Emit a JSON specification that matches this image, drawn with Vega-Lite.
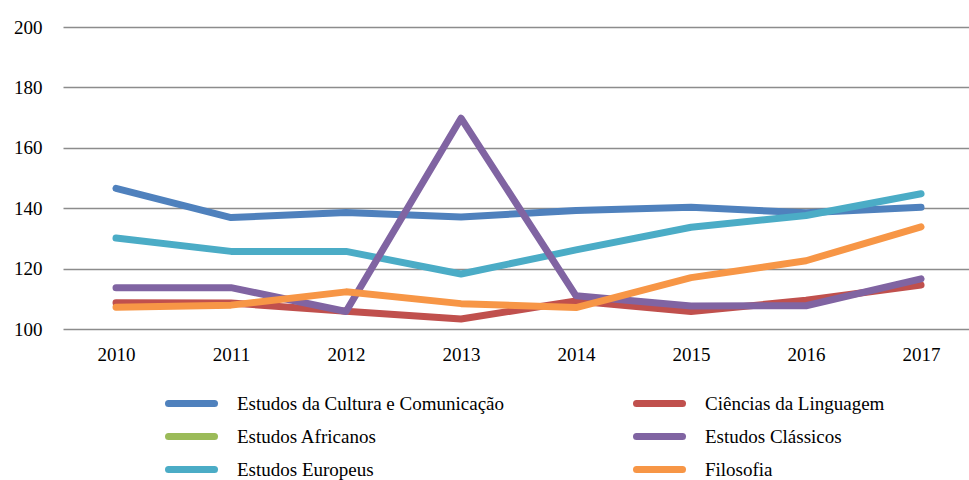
{
  "$schema": "https://vega.github.io/schema/vega-lite/v6.json",
  "autosize": {"type": "none"},
  "width": 906,
  "height": 302,
  "padding": {"left": 63, "top": 27, "right": 0, "bottom": 151},
  "background": "white",
  "config": {
    "view": {"stroke": null},
    "font": "Liberation Serif, Times New Roman, serif"
  },
  "data": {
    "values": [
      {"ano": "2010", "area": "Estudos da Cultura e Comunicação", "valor": 146.6},
      {"ano": "2011", "area": "Estudos da Cultura e Comunicação", "valor": 136.9},
      {"ano": "2012", "area": "Estudos da Cultura e Comunicação", "valor": 138.6},
      {"ano": "2013", "area": "Estudos da Cultura e Comunicação", "valor": 137.1},
      {"ano": "2014", "area": "Estudos da Cultura e Comunicação", "valor": 139.2},
      {"ano": "2015", "area": "Estudos da Cultura e Comunicação", "valor": 140.3},
      {"ano": "2016", "area": "Estudos da Cultura e Comunicação", "valor": 138.5},
      {"ano": "2017", "area": "Estudos da Cultura e Comunicação", "valor": 140.3},
      {"ano": "2010", "area": "Ciências da Linguagem", "valor": 108.7},
      {"ano": "2011", "area": "Ciências da Linguagem", "valor": 108.6},
      {"ano": "2012", "area": "Ciências da Linguagem", "valor": 105.9},
      {"ano": "2013", "area": "Ciências da Linguagem", "valor": 103.3},
      {"ano": "2014", "area": "Ciências da Linguagem", "valor": 109.3},
      {"ano": "2015", "area": "Ciências da Linguagem", "valor": 105.8},
      {"ano": "2016", "area": "Ciências da Linguagem", "valor": 109.5},
      {"ano": "2017", "area": "Ciências da Linguagem", "valor": 114.6},
      {"ano": "2010", "area": "Estudos Africanos", "valor": null},
      {"ano": "2011", "area": "Estudos Africanos", "valor": null},
      {"ano": "2012", "area": "Estudos Africanos", "valor": null},
      {"ano": "2013", "area": "Estudos Africanos", "valor": null},
      {"ano": "2014", "area": "Estudos Africanos", "valor": null},
      {"ano": "2015", "area": "Estudos Africanos", "valor": null},
      {"ano": "2016", "area": "Estudos Africanos", "valor": null},
      {"ano": "2017", "area": "Estudos Africanos", "valor": null},
      {"ano": "2010", "area": "Estudos Europeus", "valor": 130.1},
      {"ano": "2011", "area": "Estudos Europeus", "valor": 125.7},
      {"ano": "2012", "area": "Estudos Europeus", "valor": 125.7},
      {"ano": "2013", "area": "Estudos Europeus", "valor": 118.2},
      {"ano": "2014", "area": "Estudos Europeus", "valor": 126.2},
      {"ano": "2015", "area": "Estudos Europeus", "valor": 133.7},
      {"ano": "2016", "area": "Estudos Europeus", "valor": 137.6},
      {"ano": "2017", "area": "Estudos Europeus", "valor": 144.8},
      {"ano": "2010", "area": "Estudos Clássicos", "valor": 113.7},
      {"ano": "2011", "area": "Estudos Clássicos", "valor": 113.7},
      {"ano": "2012", "area": "Estudos Clássicos", "valor": 105.8},
      {"ano": "2013", "area": "Estudos Clássicos", "valor": 169.8},
      {"ano": "2014", "area": "Estudos Clássicos", "valor": 111.0},
      {"ano": "2015", "area": "Estudos Clássicos", "valor": 107.6},
      {"ano": "2016", "area": "Estudos Clássicos", "valor": 107.7},
      {"ano": "2017", "area": "Estudos Clássicos", "valor": 116.6},
      {"ano": "2010", "area": "Filosofia", "valor": 107.2},
      {"ano": "2011", "area": "Filosofia", "valor": 107.9},
      {"ano": "2012", "area": "Filosofia", "valor": 112.3},
      {"ano": "2013", "area": "Filosofia", "valor": 108.4},
      {"ano": "2014", "area": "Filosofia", "valor": 107.1},
      {"ano": "2015", "area": "Filosofia", "valor": 117.0},
      {"ano": "2016", "area": "Filosofia", "valor": 122.6},
      {"ano": "2017", "area": "Filosofia", "valor": 133.8}
    ]
  },
  "mark": {"type": "line", "strokeWidth": 7, "strokeCap": "round", "strokeJoin": "round"},
  "encoding": {
    "x": {
      "field": "ano", "type": "ordinal",
      "scale": {"type": "point", "padding": 0.439, "align": 0.525},
      "axis": {"title": null, "labelAngle": 0, "ticks": false, "domain": false, "labelPadding": 16, "grid": false, "labelFont": "Liberation Serif, Times New Roman, serif", "labelFontSize": 19, "labelColor": "#000000", "labelFontWeight": "normal"}
    },
    "y": {
      "field": "valor", "type": "quantitative",
      "scale": {"domain": [100, 200], "nice": false, "zero": false},
      "axis": {"title": null, "values": [100, 120, 140, 160, 180, 200], "ticks": false, "domain": false, "labelPadding": 21, "gridColor": "#8c8c8c", "gridWidth": 1.3, "gridOpacity": 1, "labelFont": "Liberation Serif, Times New Roman, serif", "labelFontSize": 19, "labelColor": "#000000", "labelFontWeight": "normal"}
    },
    "color": {
      "field": "area", "type": "nominal",
      "scale": {
        "domain": ["Estudos da Cultura e Comunicação", "Ciências da Linguagem", "Estudos Africanos", "Estudos Clássicos", "Estudos Europeus", "Filosofia"],
        "range": ["#4F81BD", "#C0504D", "#9BBB59", "#8064A2", "#4BACC6", "#F79646"]
      },
      "legend": {
        "title": null,
        "orient": "none",
        "direction": "horizontal",
        "legendX": 102,
        "legendY": 360,
        "columns": 2,
        "columnPadding": 129,
        "rowPadding": 0,
        "clipHeight": 33,
        "padding": 0,
        "symbolType": "stroke",
        "symbolSize": 2116,
        "symbolStrokeWidth": 7,
        "labelFont": "Liberation Serif, Times New Roman, serif",
        "labelFontSize": 19,
        "labelColor": "#000000",
        "labelOffset": 19,
        "labelLimit": 400,
        "encode": {"symbols": {"update": {"strokeCap": {"value": "round"}}}}
      }
    }
  }
}
